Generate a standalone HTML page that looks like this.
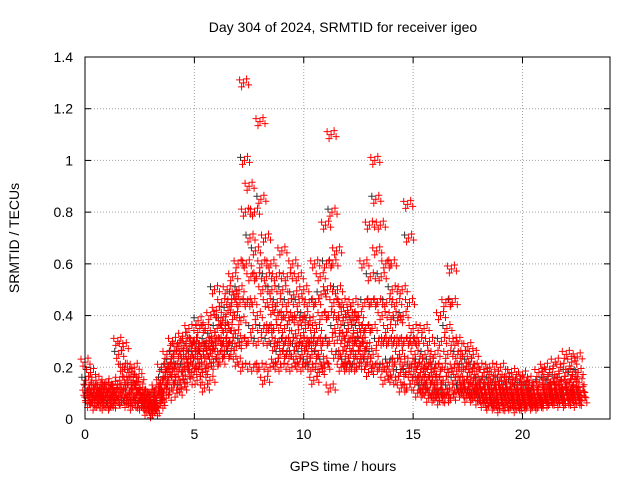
<!DOCTYPE html>
<html><head><meta charset="utf-8"><style>
body{margin:0;background:#fff;}
svg{display:block;font-family:"Liberation Sans",sans-serif;}
</style></head><body>
<svg id="chart" width="640" height="480">
<text x="343" y="32" font-size="14" text-anchor="middle">Day 304 of 2024, SRMTID for receiver igeo</text>
<text x="343" y="471" font-size="14" text-anchor="middle">GPS time / hours</text>
<text transform="translate(19,238) rotate(-90)" font-size="14" text-anchor="middle">SRMTID / TECUs</text>
<g id="grid"></g><g id="ticks"></g><g id="marks"></g>
<rect x="85" y="57" width="525" height="362" fill="none" stroke="#000"/>
</svg>
<script>
const xTicks=[0,5,10,15,20];
const yTicks=[0,0.2,0.4,0.6,0.8,1,1.2,1.4];
const yTickLabels=["0","0.2","0.4","0.6","0.8","1","1.2","1.4"];
const times=[0,0.25,0.5,0.75,1,1.25,1.5,1.75,2,2.25,2.5,2.75,3,3.25,3.5,3.75,4,4.25,4.5,4.75,5,5.25,5.5,5.75,6,6.25,6.5,6.75,7,7.25,7.5,7.75,8,8.25,8.5,8.75,9,9.25,9.5,9.75,10,10.25,10.5,10.75,11,11.25,11.5,11.75,12,12.25,12.5,12.75,13,13.25,13.5,13.75,14,14.25,14.5,14.75,15,15.25,15.5,15.75,16,16.25,16.5,16.75,17,17.25,17.5,17.75,18,18.25,18.5,18.75,19,19.25,19.5,19.75,20,20.25,20.5,20.75,21,21.25,21.5,21.75,22,22.25,22.5];
const srmtid=[
[.22,.15,.1,.08,.12,.06],[.18,.1,.07,.12,.09,.05],[.15,.08,.1,.06,.12,.09],[.12,.07,.1,.05,.09,.14],
[.1,.06,.12,.08,.05,.09],[.13,.07,.1,.06,.09,.12],[.3,.25,.15,.1,.07,.2],[.28,.2,.12,.08,.06,.15],
[.18,.1,.07,.12,.05,.15],[.2,.13,.08,.1,.06,.16],[.12,.08,.05,.1,.06,.09],[.08,.05,.03,.06,.04,.1],
[.07,.04,.02,.05,.03,.09],[.12,.08,.05,.1,.06,.14],[.2,.15,.1,.12,.18,.08],[.25,.2,.15,.18,.22,.12],
[.3,.25,.2,.15,.28,.1],[.28,.2,.15,.25,.12,.32],[.25,.2,.17,.3,.14,.22],[.35,.28,.22,.18,.25,.3],
[.3,.25,.2,.15,.38,.28],[.35,.28,.22,.18,.25,.12],[.35,.3,.25,.2,.28,.15],[.4,.32,.27,.22,.5,.3],
[.42,.35,.3,.25,.22,.38],[.45,.38,.3,.25,.35,.28],[.5,.42,.35,.3,.25,.45],[.55,.48,.4,.33,.28,.22],
[.6,.5,.45,.38,.3,.2],[1.3,1.0,.8,.6,.45,.3],[.9,.7,.55,.45,.35,.2],[.8,.65,.55,.4,.3,.2],
[1.15,.85,.6,.5,.35,.15],[.7,.55,.45,.35,.3,.2],[.6,.5,.42,.35,.28,.22],[.55,.45,.4,.3,.25,.2],
[.65,.5,.4,.35,.3,.25],[.55,.45,.38,.3,.25,.2],[.6,.48,.4,.33,.28,.22],[.55,.45,.38,.3,.25,.2],
[.5,.4,.35,.28,.22,.3],[.45,.38,.3,.25,.2,.15],[.6,.45,.35,.3,.25,.18],[.55,.48,.4,.3,.22,.2],
[.75,.6,.5,.4,.3,.12],[1.1,.8,.6,.45,.35,.25],[.65,.5,.4,.32,.25,.2],[.45,.38,.32,.28,.22,.2],
[.42,.35,.3,.25,.2,.4],[.45,.38,.3,.25,.2,.32],[.4,.35,.28,.22,.3,.25],[.6,.45,.35,.28,.22,.18],
[.75,.55,.45,.35,.25,.2],[1.0,.85,.65,.45,.3,.2],[.75,.55,.4,.3,.2,.15],[.6,.45,.35,.3,.22,.17],
[.6,.5,.4,.3,.22,.15],[.45,.38,.3,.25,.18,.12],[.5,.4,.3,.22,.18,.12],[.83,.7,.45,.3,.2,.15],
[.35,.3,.25,.2,.15,.1],[.3,.22,.18,.15,.12,.1],[.35,.25,.2,.15,.12,.08],[.3,.22,.18,.15,.1,.08],
[.25,.2,.15,.12,.1,.07],[.4,.3,.2,.15,.1,.08],[.45,.35,.25,.18,.12,.08],[.58,.45,.3,.2,.15,.1],
[.3,.25,.2,.15,.12,.1],[.25,.2,.15,.12,.1,.08],[.28,.22,.18,.14,.1,.08],[.25,.2,.15,.12,.1,.07],
[.2,.15,.12,.1,.08,.06],[.18,.14,.1,.08,.06,.05],[.2,.15,.12,.1,.07,.05],[.17,.13,.1,.08,.06,.04],
[.2,.15,.12,.1,.08,.05],[.16,.12,.1,.08,.06,.05],[.18,.14,.1,.08,.06,.04],[.15,.12,.1,.08,.06,.05],
[.17,.13,.1,.08,.06,.05],[.15,.12,.1,.08,.07,.05],[.13,.1,.08,.07,.06,.05],[.18,.14,.1,.08,.07,.06],
[.2,.15,.12,.1,.08,.06],[.18,.14,.12,.1,.08,.07],[.22,.16,.13,.1,.08,.06],[.2,.15,.12,.1,.08,.06],
[.25,.18,.14,.11,.09,.07],[.22,.17,.13,.1,.08,.06],[.24,.18,.14,.11,.09,.07]];
const NS="http://www.w3.org/2000/svg";
const X0=85,X1=610,Y0=419,Y1=57,XMAX=24,YMAX=1.4;
const xs=v=>X0+v/XMAX*(X1-X0);
const ys=v=>Y0-v/YMAX*(Y0-Y1);
function mk(tag,attrs,parent){const e=document.createElementNS(NS,tag);for(const k in attrs)e.setAttribute(k,attrs[k]);parent.appendChild(e);return e;}
const grid=document.getElementById('grid'),ticks=document.getElementById('ticks'),marks=document.getElementById('marks');
xTicks.forEach(v=>{
  const x=xs(v);
  if(v>0){const g=mk('line',{x1:x,x2:x,y1:Y1,y2:Y0,stroke:'#a0a0a0','stroke-dasharray':'1,2'},grid);
  
  }
  mk('line',{x1:x,x2:x,y1:Y0,y2:Y0-6,stroke:'#000'},ticks);
  mk('line',{x1:x,x2:x,y1:Y1,y2:Y1+6,stroke:'#000'},ticks);
  const t=mk('text',{x:x,y:Y0+20,'font-size':14,'text-anchor':'middle'},ticks);
  t.textContent=v;
  
  
});
yTicks.forEach((v,i)=>{
  const y=ys(v);
  if(v>0&&v<YMAX){const g=mk('line',{x1:X0,x2:X1,y1:y,y2:y,stroke:'#a0a0a0','stroke-dasharray':'1,2'},grid);
  
  }
  mk('line',{x1:X0,x2:X0+6,y1:y,y2:y,stroke:'#000'},ticks);
  mk('line',{x1:X1,x2:X1-6,y1:y,y2:y,stroke:'#000'},ticks);
  const t=mk('text',{x:X0-12,y:y+5,'font-size':14,'text-anchor':'end'},ticks);
  t.textContent=yTickLabels[i];
  
  
});
// pixel offsets used to render each reading as a small dense cluster (styling only)
const cluster=[[0,0],[3,-4],[-2,4],[5,2],[-4,-3]];
let d='',dk='';
times.forEach((t,i)=>{
  srmtid[i].forEach((v,j)=>{
    const bx=xs(t+j*0.042),by=ys(v);
    cluster.forEach((o,k)=>{
      const x=bx+o[0],y=by+o[1]*(k===0?0:1);
      const seg=`M${(x-3.5).toFixed(1)} ${y.toFixed(1)}h7M${x.toFixed(1)} ${(y-3.5).toFixed(1)}v7`;
      if(k===4&&j%3===1) dk+=seg; else d+=seg;
    });
  });
});
const pk=mk('path',{d:dk,stroke:'#333','stroke-width':1,fill:'none'},marks);


const p=mk('path',{d:d,stroke:'#ff0000','stroke-width':1,fill:'none'},marks);


</script>
</body></html>
